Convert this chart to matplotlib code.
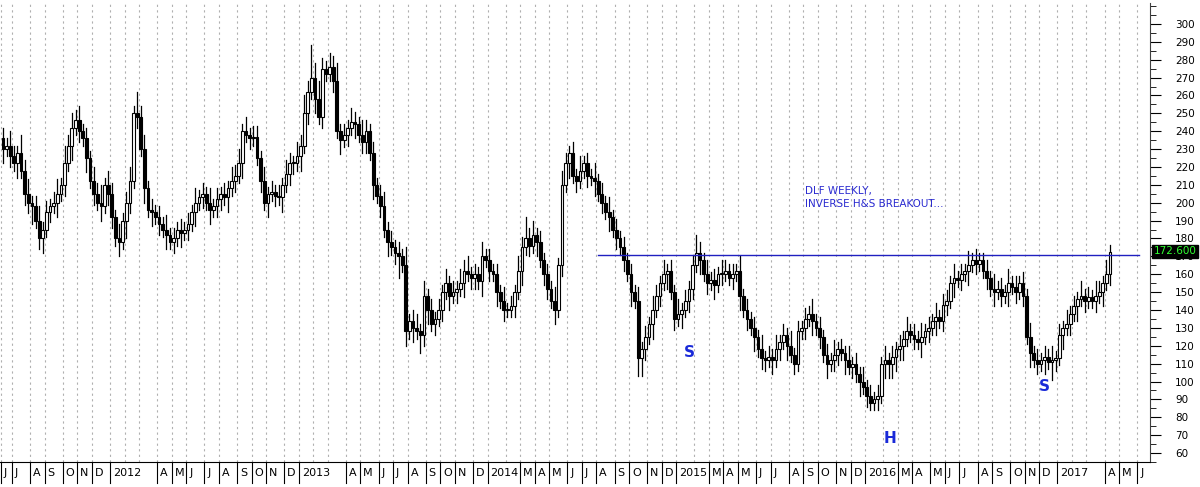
import matplotlib
matplotlib.use("Agg")
import matplotlib.pyplot as plt
from matplotlib.patches import Rectangle
import matplotlib.transforms as mtransforms
import numpy as np
import pandas as pd

start_date = "2011-06-10"
closes = [
 230, 232, 226, 222, 228, 218, 205, 200, 198, 190,
 180, 185, 195, 198, 200, 205, 210, 222, 232, 242,
 246, 240, 236, 225, 212, 205, 200, 198, 210, 205,
 192, 180, 178, 190, 200, 212, 250, 248, 230, 208,
 196, 195, 192, 188, 185, 182, 178, 180, 185, 183,
 185, 188, 195, 200, 203, 205, 200, 196, 198, 202,
 205, 203, 208, 212, 215, 222, 240, 238, 236, 237,
 225, 212, 200, 205, 206, 204, 203, 210, 216, 222,
 222, 226, 232, 250, 262, 270, 258, 248, 275, 272,
 276, 268, 240, 235, 238, 242, 245, 244, 238, 234,
 240, 228, 210, 204, 198, 185, 178, 175, 172, 170,
 165, 128, 134, 130, 128, 126, 148, 140, 132, 135,
 140, 150, 155, 148, 150, 152, 155, 162, 160, 158,
 160, 156, 170, 168, 162, 160, 150, 145, 140, 140,
 142, 150, 162, 175, 180, 176, 182, 178, 168, 160,
 152, 145, 140, 165, 210, 222, 228, 215, 212, 218,
 222, 215, 214, 212, 205, 200, 195, 192, 185, 180,
 175, 168, 160, 150, 145, 113, 118, 125, 132, 140,
 148, 155, 160, 162, 150, 135, 138, 140, 145, 152,
 165, 172, 168, 160, 155, 157, 154, 160, 160, 162,
 158, 160, 162, 148, 140, 135, 130, 125, 118, 113,
 112, 114, 112, 118, 122, 126, 120, 115, 110, 128,
 130, 135, 138, 134, 130, 125, 115, 110, 112, 115,
 118, 116, 112, 108, 110, 104, 100, 97, 92, 88,
 90, 92, 110, 112, 110, 114, 118, 120, 124, 128,
 126, 124, 122, 125, 128, 130, 134, 136, 134, 143,
 145, 155, 158, 157, 160, 162, 165, 168, 166, 168,
 162, 158, 152, 150, 152, 148, 150, 155, 153, 150,
 155, 148, 125, 116, 112, 110, 112, 114, 111, 112,
 113, 126, 130, 132, 138, 142, 146, 148, 145, 147,
 145, 148, 150, 155, 160, 172.6,
]
first_open = 236
up_wick_digits = ("3243253423" "4232342534" "3423243524" "3242342634" "2323242323"
                  "2324232423" "2324342423" "3242323243" "2435394532" "4352324324"
                  "3232342323" "2523424232" "3242324342" "3242323242" "3243634232"
                  "3242432324" "2324232423" "2323242324" "3242324232" "3532423243"
                  "2324232324" "2324232423" "2324232324" "2324232423" "2324232324"
                  "2324232423" "3242324232" "2324232423" "2324232324" "2324232423"
                  "243242")
down_wick_digits = ("4232423352" "3423242324" "2324232423" "3242532324" "2423242324"
                    "2324232423" "3242324232" "2324232423" "3242324232" "2324232423"
                    "3242324236" "2424253423" "2324232423" "3242324232" "2324232423"
                    "3242324232" "2324232423" "2324255324" "2324232423" "3242324232"
                    "2324232423" "3242324232" "2324232423" "3242324232" "2324444342"
                    "2324232423" "3242324232" "2324232423" "2324232425" "3242324232"
                    "232423")
resistance = 170.8
res_range = (164, 313)
label_price = "172.600"

n = len(closes)
dates = pd.date_range(start_date, periods=n, freq="W-FRI")
opens = [first_open] + closes[:-1]
highs = [max(o, c) + 2 * int(d) for o, c, d in zip(opens, closes, up_wick_digits)]
lows = [min(o, c) - 2 * int(d) for o, c, d in zip(opens, closes, down_wick_digits)]

fig = plt.figure(figsize=(12, 4.87), dpi=100)
ax = fig.add_axes([0.0, 25 / 487, 1150 / 1200, 1 - 28 / 487])
ax.set_xlim(-0.8, 316.0)
ax.set_ylim(55.0, 311.7)

months = pd.date_range("2011-06-01", "2017-06-30", freq="MS")
month_idx = []
for m in months:
    d = np.searchsorted(dates.values, np.datetime64(m))
    if d >= n:
        d = n - 1 + int(round((np.datetime64(m) - dates.values[-1]) / np.timedelta64(7, "D"))) + 1
    month_idx.append(d)
letters = "JFMAMJJASOND"
omit = {(2012, 2), (2012, 3), (2013, 2), (2013, 3), (2014, 2), (2015, 2), (2016, 2), (2017, 2), (2017, 3)}
trans = mtransforms.blended_transform_factory(ax.transData, ax.transAxes)
for m, xi in zip(months, month_idx):
    ax.axvline(xi - 0.5, color="#b0b0b0", lw=0.8, ls=(0, (2, 3)), zorder=0)
    if (m.year, m.month) in omit:
        continue
    lab = str(m.year) if m.month == 1 else letters[m.month - 1]
    ax.plot([xi - 0.5, xi - 0.5], [0, -0.045], transform=trans, color="black", lw=0.8, clip_on=False)
    ax.text(xi + 0.3, -0.025, lab, transform=trans, ha="left", va="center", fontsize=8,
            color="black", family="DejaVu Sans")

for i in range(n):
    o, c, h, l = opens[i], closes[i], highs[i], lows[i]
    ax.plot([i, i], [l, h], color="black", lw=0.9, zorder=2)
    bottom = min(o, c)
    height = max(abs(c - o), 0.6)
    face = "white" if c >= o else "black"
    ax.add_patch(Rectangle((i - 0.38, bottom), 0.76, height, facecolor=face,
                           edgecolor="black", lw=0.8, zorder=3))

ax.plot(res_range, [resistance, resistance], color="#2020c0", lw=1.0, zorder=4)

ax.text(221, 203, "DLF WEEKLY,\nINVERSE H&S BREAKOUT...", color="#2a2ad0", fontsize=7.5,
        va="center", ha="left", linespacing=1.4)
ax.text(189, 116, "S", color="#1a2ad8", fontsize=11, fontweight="bold", ha="center", va="center")
ax.text(244.5, 68, "H", color="#1a2ad8", fontsize=11, fontweight="bold", ha="center", va="center")
ax.text(287, 97, "S", color="#1a2ad8", fontsize=11, fontweight="bold", ha="center", va="center")

ax.yaxis.tick_right()
ax.set_yticks(np.arange(60, 301, 10))
ax.set_yticks(np.arange(55, 311, 5), minor=True)
ax.tick_params(axis="y", which="major", length=8, labelsize=7.5, direction="out", pad=10)
ax.tick_params(axis="y", which="minor", length=4, direction="out")
ax.tick_params(axis="x", bottom=False, labelbottom=False)
for s in ["top", "left"]:
    ax.spines[s].set_visible(False)
ax.spines["right"].set_color("#404040")

ax.text(1.003, resistance + 2, label_price, transform=mtransforms.blended_transform_factory(ax.transAxes, ax.transData),
        ha="left", va="center", fontsize=7.5, color="#30ff30",
        bbox=dict(boxstyle="square,pad=0.15", fc="black", ec="black"), clip_on=False, zorder=10)

fig.savefig("out.png", dpi=100)
